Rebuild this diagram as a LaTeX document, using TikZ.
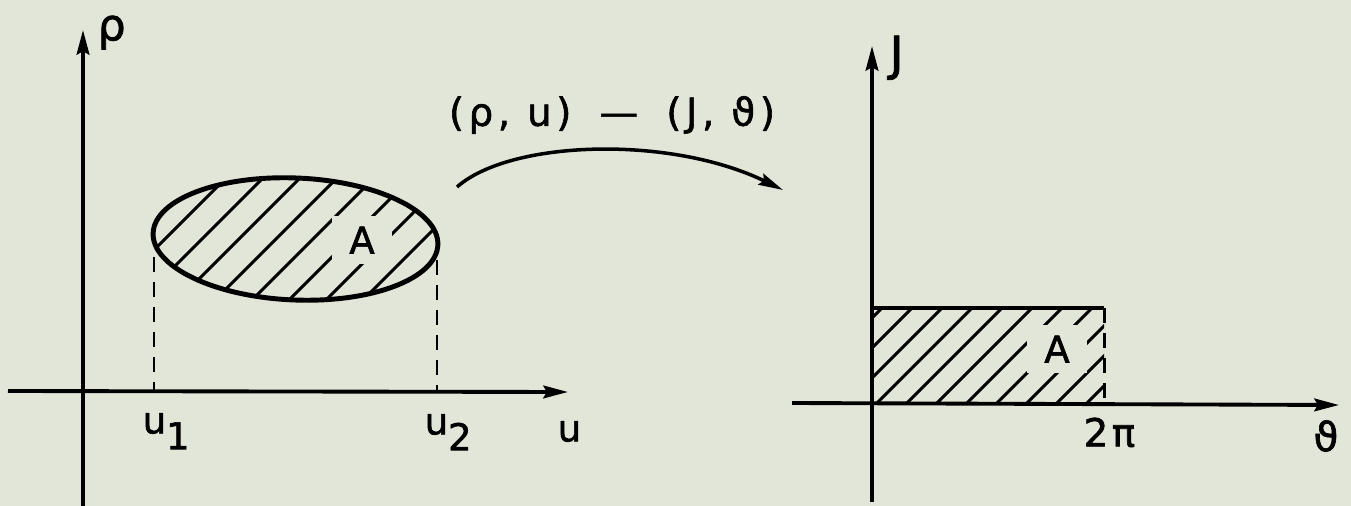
\documentclass[tikz,border=0pt]{standalone}
\usepackage{fontspec}
\setmainfont{DejaVu Sans}[FakeBold=1.6,AutoFakeBold=1.6]
\usetikzlibrary{arrows.meta}
\definecolor{paper}{RGB}{226,230,216}
\newcommand\lowidx[1]{\raisebox{-4.5pt}{#1}}
\begin{document}
\begin{tikzpicture}[x=0.01cm,y=-0.01cm,
  axis/.style={line width=1.1pt,-{Stealth[length=7pt,width=3.6pt,inset=1pt]}},
  lbl/.style={font=\fontsize{10.5}{12}\selectfont\bfseries,inner sep=0pt},
  hatch/.style={line width=0.85pt},
  outline/.style={line width=1.4pt},
  guide/.style={line width=0.85pt,dash pattern=on 4.3pt off 2.8pt},
  blank/.style={fill=paper,inner sep=3pt}]
\fill[paper] (0,0) rectangle (1351,506);
\useasboundingbox (0,0) rectangle (1351,506);
% ---------------- left plot ----------------
\coordinate (LyB) at (83,506); \coordinate (LyT) at (83,30);
\coordinate (LxL) at (8,391);  \coordinate (LxR) at (568,392);
\draw[axis] (LyB) -- (LyT);
\draw[axis] (LxL) -- (LxR);
\node[lbl,font=\fontsize{12.5}{14}\selectfont\bfseries,anchor=north west] (rho) at (97,15) {ρ};
\node[lbl,anchor=north west] (u) at (557,420) {u};
\node[lbl,anchor=north west] (u1) at (142,412) {u\lowidx{1}};
\node[lbl,anchor=north west] (u2) at (424,413) {u\lowidx{2}};
% ellipse region
\coordinate (E) at (295.5,239);
\begin{scope}
  \clip[rotate around={-2.4:(E)}] (E) ellipse [x radius=142.5, y radius=61];
  \foreach \i in {-6,...,14} \draw[hatch] (\i*37,330) -- ++(200,-200);
\end{scope}
\node[lbl,blank,inner xsep=5pt] (A1) at (362,240) {A};
\draw[outline,rotate around={-2.4:(E)}] (E) ellipse [x radius=142.5, y radius=61];
\coordinate (d1t) at (154,257); \coordinate (d1b) at (154,391);
\coordinate (d2t) at (437,260); \coordinate (d2b) at (437,392);
\draw[guide] (d1t) -- (d1b);
\draw[guide] (d2t) -- (d2b);
% ---------------- transformation arrow ----------------
\coordinate (cs) at (457,187); \coordinate (ce) at (783,190);
\draw[line width=1pt,-{Stealth[length=7pt,width=3.4pt,inset=1pt]}]
  (cs) .. controls (510,140) and (670,135) .. (ce);
\node[lbl,font=\fontsize{11}{13}\selectfont\bfseries\addfontfeature{LetterSpace=12}] (map) at (612,115)
  {(ρ, u)\hspace{8pt}—\hspace{8pt}(J, ϑ)};
% ---------------- right plot ----------------
\coordinate (RyB) at (872,502); \coordinate (RyT) at (872,46);
\coordinate (RxL) at (792,403); \coordinate (RxR) at (1339,405);
\begin{scope}
  \clip (872,308) rectangle (1104,403);
  \foreach \i in {-4,...,12} \draw[hatch] (800+\i*30,420) -- ++(140,-140);
\end{scope}
\node[lbl,blank,inner xsep=5pt] (A2) at (1057,349) {A};
\draw[axis] (RyB) -- (RyT);
\draw[axis] (RxL) -- (RxR);
\coordinate (rtl) at (872,308); \coordinate (rtr) at (1104,308);
\coordinate (rbr) at (1104,403);
\draw[outline] (rtl) -- (rtr);
\draw[guide] (rtr) -- (rbr);
\node[lbl,font=\fontsize{13.5}{15}\selectfont\bfseries,anchor=north west] (J) at (889,35) {J};
\node[lbl,font=\fontsize{11}{13}\selectfont\bfseries,anchor=north west] (twopi) at (1083,417) {2\hspace{1pt}π};
\node[lbl,font=\fontsize{11.5}{13}\selectfont\bfseries] (theta) at (1326,436) {ϑ};
\end{tikzpicture}
\end{document}
